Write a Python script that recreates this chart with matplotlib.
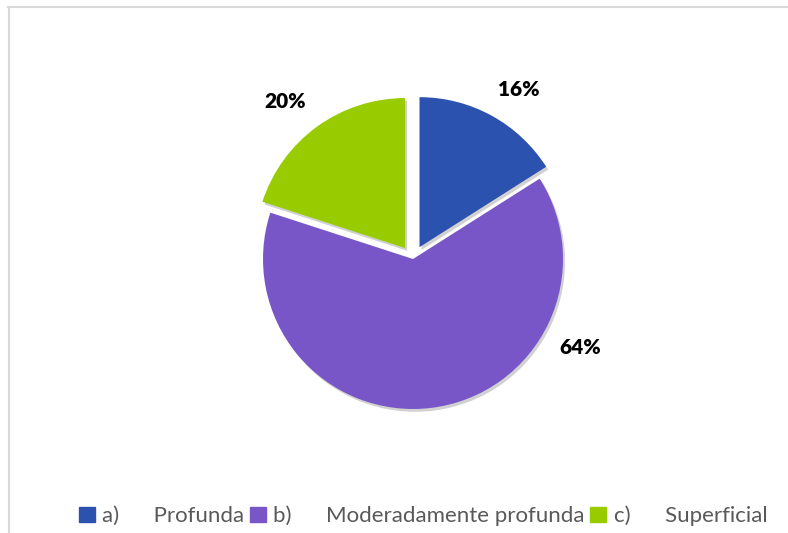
import matplotlib.pyplot as plt
import matplotlib.patheffects as pe
from matplotlib.lines import Line2D
import numpy as np

# Daten
categorias = ["a)      Profunda", "b)      Moderadamente profunda", "c)      Superficial"]
porcentajes = [16, 64, 20]
etiquetas = ["16%", "64%", "20%"]
colores = ["#2C52B0", "#7856C8", "#99CC00"]
separacion = [0.09, 0.0, 0.09]

# Posicion de las etiquetas (angulo en grados, distancia en radios)
ang_etiqueta = [58, -28, 129]
dist_etiqueta = [1.33, 1.26, 1.35]

fig = plt.figure(figsize=(7.88, 5.33), dpi=100)

# Marco gris claro (arriba e izquierda)
fig.add_artist(Line2D([8 / 788, 1], [1 - 7 / 533, 1 - 7 / 533], color="#D9D9D9", lw=1.5))
fig.add_artist(Line2D([8.5 / 788, 8.5 / 788], [0, 1 - 7 / 533], color="#D9D9D9", lw=1.5))

cx, cy, r = 413, 259, 150
ax = fig.add_axes([(cx - 200) / 788, (533 - cy - 200) / 533, 400 / 788, 400 / 533])
wedges, _ = ax.pie(porcentajes, colors=colores, startangle=90, counterclock=False,
                   explode=separacion, radius=1.0)
for w in wedges:
    w.set_path_effects([pe.SimplePatchShadow(offset=(1.5, -2), shadow_rgbFace="#000000", alpha=0.18),
                        pe.Normal()])
ax.set_xlim(-4 / 3, 4 / 3)
ax.set_ylim(-4 / 3, 4 / 3)
ax.set_aspect("equal")
ax.axis("off")

for txt, a, d in zip(etiquetas, ang_etiqueta, dist_etiqueta):
    ax.text(d * np.cos(np.radians(a)), d * np.sin(np.radians(a)), txt,
            ha="center", va="center", fontsize=15, fontweight="heavy",
            family="Lato", color="black")

handles = [plt.Rectangle((0, 0), 1, 1, color=c) for c in colores]
leg = fig.legend(handles, categorias, ncol=3, loc="center", bbox_to_anchor=(0.537, 17 / 533),
                 frameon=False, handlelength=0.7, handleheight=0.7, handletextpad=0.35,
                 columnspacing=0.25, prop={"family": "Lato", "size": 16})
for t in leg.get_texts():
    t.set_color("#595959")

fig.savefig("out.png", dpi=100)
